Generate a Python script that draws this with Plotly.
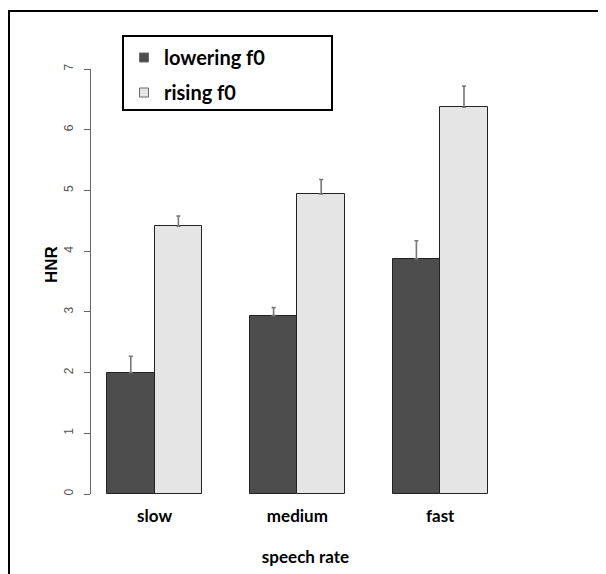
import plotly.graph_objects as go

categories = ["slow", "medium", "fast"]
series_names = ["lowering f0", "rising f0"]
lowering_mean = [2.00, 2.94, 3.87]
lowering_err = [0.27, 0.13, 0.30]
rising_mean = [4.41, 4.94, 6.37]
rising_err = [0.17, 0.24, 0.35]
y_ticks = [0, 1, 2, 3, 4, 5, 6, 7]
colors = ["#4d4d4d", "#e5e5e5"]

# R barplot(beside=TRUE) layout: bars width 1, one-unit gap between groups
lower_x = [1.5 + 3 * i for i in range(len(categories))]
rise_x = [2.5 + 3 * i for i in range(len(categories))]
group_x = [2 + 3 * i for i in range(len(categories))]

OFF = 8  # page body margin offset
W, H = 606, 574
PW, PH = 429, 425
ML, MT = 91 - OFF, 69 - OFF
MR, MB = W - ML - PW, H - MT - PH


def px2x(px):
    return (px - OFF - ML) / PW


def py2y(py):
    return (H - MB - (py - OFF)) / PH


fig = go.Figure()
for xs, ys, errs, col, name, grp in [
    (lower_x, lowering_mean, lowering_err, colors[0], series_names[0], "a"),
    (rise_x, rising_mean, rising_err, colors[1], series_names[1], "b"),
]:
    fig.add_trace(go.Bar(
        x=xs, y=ys, width=1, name=name, legendgroup=grp, showlegend=False,
        marker=dict(color=col, line=dict(color="#222222", width=1)),
        error_y=dict(type="data", symmetric=False, array=errs,
                     arrayminus=[0] * len(errs), color="#777777",
                     thickness=1.6, width=2),
    ))
    # legend entry with a small square key, as in the R legend
    fig.add_trace(go.Scatter(
        x=[None], y=[None], mode="markers", name=name, legendgroup=grp,
        marker=dict(symbol="square", size=9, color=col,
                    line=dict(color="#6a6a6a", width=1)),
    ))

shapes = [
    dict(type="rect", xref="paper", yref="paper",
         x0=px2x(123), x1=px2x(332), y0=py2y(110), y1=py2y(36),
         line=dict(color="black", width=2), fillcolor="rgba(0,0,0,0)"),
    dict(type="line", xref="paper", yref="paper",
         x0=px2x(8), x1=px2x(606), y0=py2y(11), y1=py2y(11),
         line=dict(color="black", width=2)),
    dict(type="line", xref="paper", yref="paper",
         x0=px2x(9), x1=px2x(9), y0=py2y(11), y1=py2y(580),
         line=dict(color="black", width=2)),
]

annotations = [
    dict(text="<b>HNR</b>", xref="paper", yref="paper",
         x=px2x(51), y=py2y(265), xanchor="center", yanchor="middle",
         textangle=-90, showarrow=False,
         font=dict(family="Liberation Sans", size=17, color="black")),
]

fig.update_layout(
    width=W, height=H,
    margin=dict(l=ML, r=MR, t=MT, b=MB, pad=0),
    paper_bgcolor="white", plot_bgcolor="white",
    barmode="overlay", bargap=0,
    shapes=shapes, annotations=annotations,
    showlegend=True,
    legend=dict(x=px2x(124), y=py2y(38), xanchor="left", yanchor="top",
                bgcolor="rgba(0,0,0,0)", borderwidth=0,
                font=dict(family="Lato", size=20, color="black", weight="bold"),
                tracegroupgap=6, traceorder="grouped"),
    xaxis=dict(range=[0.664, 0.664 + PW / 47.6], tickmode="array",
               tickvals=group_x, ticktext=categories, ticks="",
               showline=False, showgrid=False, zeroline=False,
               tickfont=dict(family="Lato", size=17, color="black", weight="bold"),
               ticklabelstandoff=10,
               title=dict(text="speech rate", standoff=26,
                          font=dict(family="Lato", size=17, color="black", weight="bold"))),
    yaxis=dict(range=[0, 7], tickmode="array", tickvals=y_ticks,
               ticktext=[str(v) for v in y_ticks], tickangle=-90,
               ticks="outside", ticklen=6, tickcolor="#666666", tickwidth=1,
               showline=True, linecolor="#666666", linewidth=1,
               showgrid=False, zeroline=False,
               tickfont=dict(family="Liberation Sans", size=12, color="#555555"),
               ticklabelstandoff=6),
)

fig.write_html("out.html")
